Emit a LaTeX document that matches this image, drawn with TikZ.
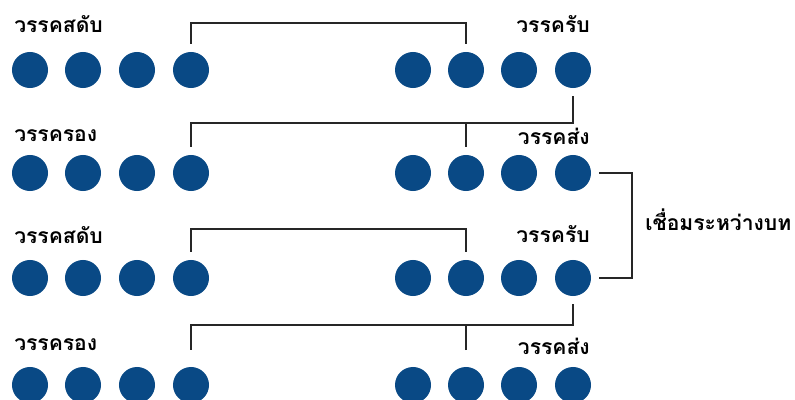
\documentclass[tikz,border=0pt]{standalone}
\usepackage{fontspec}
\newfontfamily\thaifont[Script=Thai]{Loma}
\definecolor{azulbola}{RGB}{9,73,133}
\begin{document}
\begin{tikzpicture}[
            x=0.025cm, y=-0.025cm,
            bola/.style={shape=circle, fill=azulbola, minimum size=0.9cm, inner sep=0pt, outer sep=0.2cm},
            rotulo/.style={font=\thaifont\bfseries\fontsize{15}{18}\selectfont, inner sep=0pt},
            linha/.style={line width=1.1pt, draw=black!85},
        ]
        \useasboundingbox (0,0) rectangle (795,400);

        \foreach \r/\y in {1/70, 2/173, 3/278, 4/385} {
            \foreach \i/\x in {1/30, 2/83, 3/137, 4/191}
                \node[bola] (e\r\i) at (\x,\y) {};
            \foreach \i/\x in {1/413, 2/466, 3/519, 4/573}
                \node[bola] (d\r\i) at (\x,\y) {};
        }

        \node[rotulo, anchor=base west] (sdab1) at (14,33) {วรรคสดับ};
        \node[rotulo, anchor=base east] (rab1) at (590,33) {วรรครับ};
        \node[rotulo, anchor=base west] (rong1) at (14,142) {วรรครอง};
        \node[rotulo, anchor=base east] (song1) at (590,145) {วรรคส่ง};
        \node[rotulo, anchor=base west] (sdab2) at (14,243) {วรรคสดับ};
        \node[rotulo, anchor=base east] (rab2) at (590,242) {วรรครับ};
        \node[rotulo, anchor=base west] (rong2) at (14,350) {วรรครอง};
        \node[rotulo, anchor=base east] (song2) at (590,354) {วรรคส่ง};
        \node[rotulo, anchor=base west] (elo) at (645,230) {เชื่อมระหว่างบท};

        \draw[linha] (e14.north) -- ++(0,-21) -| (d12.north);
        \draw[linha] (d14.south) -- ++(0,27) coordinate (j2) -| (e24.north);
        \draw[linha] (d22.north) -- (d22.north |- j2);
        \draw[linha] (e34.north) -- ++(0,-23) -| (d32.north);
        \draw[linha, shorten >=0.22cm] (d34.south) -- ++(0,21) coordinate (j4) -| (e44.north);
        \draw[linha, shorten <=0.22cm] (d42.north) -- (d42.north |- j4);
        \draw[linha] (d24.east) -- ++(33,0) |- (d34.east);

    \end{tikzpicture}
\end{document}
